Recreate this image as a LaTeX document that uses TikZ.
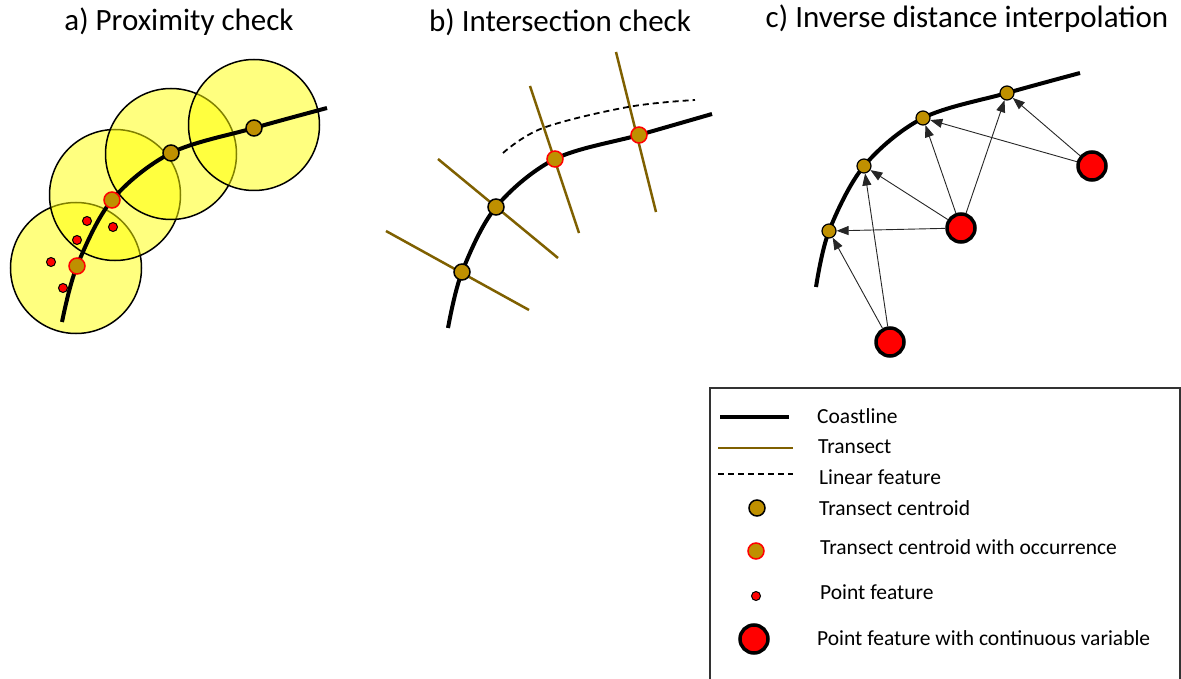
\documentclass[tikz,border=0pt]{standalone}
\usepackage{fontspec}
\setmainfont{Carlito}
\usetikzlibrary{arrows.meta}
\definecolor{gold}{HTML}{BF9000}
\definecolor{tbrown}{HTML}{7F6000}
\definecolor{bufyellow}{HTML}{FFFF00}
\tikzset{
  title/.style={font=\fontsize{31}{36}\selectfont},
  legtext/.style={anchor=west, font=\fontsize{21.5}{26}\selectfont, inner sep=0},
  coast/.style={line width=4pt},
  transect/.style={tbrown, line width=2.5pt},
  linfeat/.style={line width=1.8pt, dash pattern=on 6pt off 4pt},
  buffer/.style={circle, draw=black, line width=1.5pt, fill=bufyellow, fill opacity=0.5, minimum size=131, inner sep=0},
  cent/.style={circle, draw=black, fill=gold, line width=1.5pt, minimum size=16, inner sep=0},
  occ/.style={cent, draw=red},
  smallcent/.style={cent, line width=1.2pt, minimum size=14},
  pt/.style={circle, draw=black, fill=red, line width=1pt, minimum size=9, inner sep=0},
  bigpt/.style={circle, draw=black, fill=red, line width=3.5pt, minimum size=28, inner sep=0}
}
\begin{document}
\begin{tikzpicture}[x=1pt, y=-1pt]
      \useasboundingbox (0,0) rectangle (1181,679);
      % titles
      \node[title] (ta) at (179,22) {a) Proximity check};
      \node[title] (tb) at (560,22) {b) Intersection check};
      \node[title] (tc) at (967,19) {c) Inverse distance interpolation};

      % a) proximity check
      \draw
        (76,268) node[buffer] (buf1){}
        (115,195) node[buffer] (buf2){}
        (171,154) node[buffer] (buf3){}
        (254,125) node[buffer] (buf4){};
      \coordinate (a0) at (62,322);
      \coordinate (a1) at (77,266);
      \coordinate (a2) at (112,200);
      \coordinate (a3) at (171,153);
      \coordinate (a4) at (254,128);
      \coordinate (a5) at (327,108);
      \draw[coast] plot[smooth, tension=0.55] coordinates {(a0) (a1) (a2) (a3) (a4) (a5)};
      \draw
        (87,221) node[pt] (p1){}
        (113,227) node[pt] (p2){}
        (77,240) node[pt] (p3){}
        (51,262) node[pt] (p4){}
        (63,288) node[pt] (p5){}
        (a1) node[occ] (ac1){}
        (a2) node[occ] (ac2){}
        (a3) node[cent] (ac3){}
        (a4) node[cent] (ac4){};

      % b) intersection check
      \coordinate (b0) at (448,328);
      \coordinate (b1) at (462,272);
      \coordinate (b2) at (496,207);
      \coordinate (b3) at (555,159);
      \coordinate (b4) at (639,135);
      \coordinate (b5) at (712,114);
      \coordinate (t1s) at (386,231);
      \coordinate (t1e) at (529,310);
      \coordinate (t2s) at (438,159);
      \coordinate (t2e) at (558,258);
      \coordinate (t3s) at (530,86);
      \coordinate (t3e) at (579,233);
      \coordinate (t4s) at (616,52);
      \coordinate (t4e) at (656,212);
      \begin{scope}[transect]
        \draw (t1s) to (t1e);
        \draw (t2s) to (t2e);
        \draw (t3s) to (t3e);
        \draw (t4s) to (t4e);
      \end{scope}
      \draw[linfeat] plot[smooth, tension=0.6] coordinates {(503,153) (543,128) (628,107) (695,100)};
      \draw[coast] plot[smooth, tension=0.55] coordinates {(b0) (b1) (b2) (b3) (b4) (b5)};
      \draw
        (b1) node[cent] (bc1){}
        (b2) node[cent] (bc2){}
        (b3) node[occ] (bc3){}
        (b4) node[occ] (bc4){};

      % c) inverse distance interpolation
      \coordinate (c0) at (816,287);
      \coordinate (c1) at (829,231);
      \coordinate (c2) at (864,166);
      \coordinate (c3) at (923,118);
      \coordinate (c4) at (1007,93);
      \coordinate (c5) at (1080,73);
      \draw[coast] plot[smooth, tension=0.55] coordinates {(c0) (c1) (c2) (c3) (c4) (c5)};
      \draw
        (c1) node[smallcent] (cc1){}
        (c2) node[smallcent] (cc2){}
        (c3) node[smallcent] (cc3){}
        (c4) node[smallcent] (cc4){}
        (890,342) node[bigpt] (q1){}
        (961,228) node[bigpt] (q2){}
        (1092,166) node[bigpt] (q3){};
      \begin{scope}[-{Triangle[length=12pt,width=9pt]}, line width=0.9pt, black!85]
        \draw (q1) to (cc1);
        \draw (q1) to (cc2);
        \draw (q2) to (cc1);
        \draw (q2) to (cc2);
        \draw (q2) to (cc3);
        \draw (q2) to (cc4);
        \draw (q3) to (cc3);
        \draw (q3) to (cc4);
      \end{scope}

      % legend
      \draw[line width=1.2pt, black!80] (710,690) -- (710,388) -- (1180,388) -- (1180,690);
      \coordinate (l1s) at (720,417);
      \coordinate (l1e) at (789,417);
      \coordinate (l2s) at (718,448);
      \coordinate (l2e) at (793,448);
      \coordinate (l3s) at (718,474);
      \coordinate (l3e) at (793,474);
      \draw[coast] (l1s) to (l1e);
      \draw[transect] (l2s) to (l2e);
      \draw[linfeat] (l3s) to (l3e);
      \draw
        (757,508) node[cent] (lc){}
        (756,551) node[occ] (lo){}
        (756,596) node[pt] (lp){}
        (754,639) node[bigpt] (lq){};
      \node[legtext] (tcoast) at (817,416) {Coastline};
      \node[legtext] (ttrans) at (818,447) {Transect};
      \node[legtext] (tlin) at (819,477) {Linear feature};
      \node[legtext] (tcent) at (819,508) {Transect centroid};
      \node[legtext] (tocc) at (820,547) {Transect centroid with occurrence};
      \node[legtext] (tpt) at (820,592) {Point feature};
      \node[legtext] (tbig) at (817,638) {Point feature with continuous variable};
    \end{tikzpicture}
\end{document}
